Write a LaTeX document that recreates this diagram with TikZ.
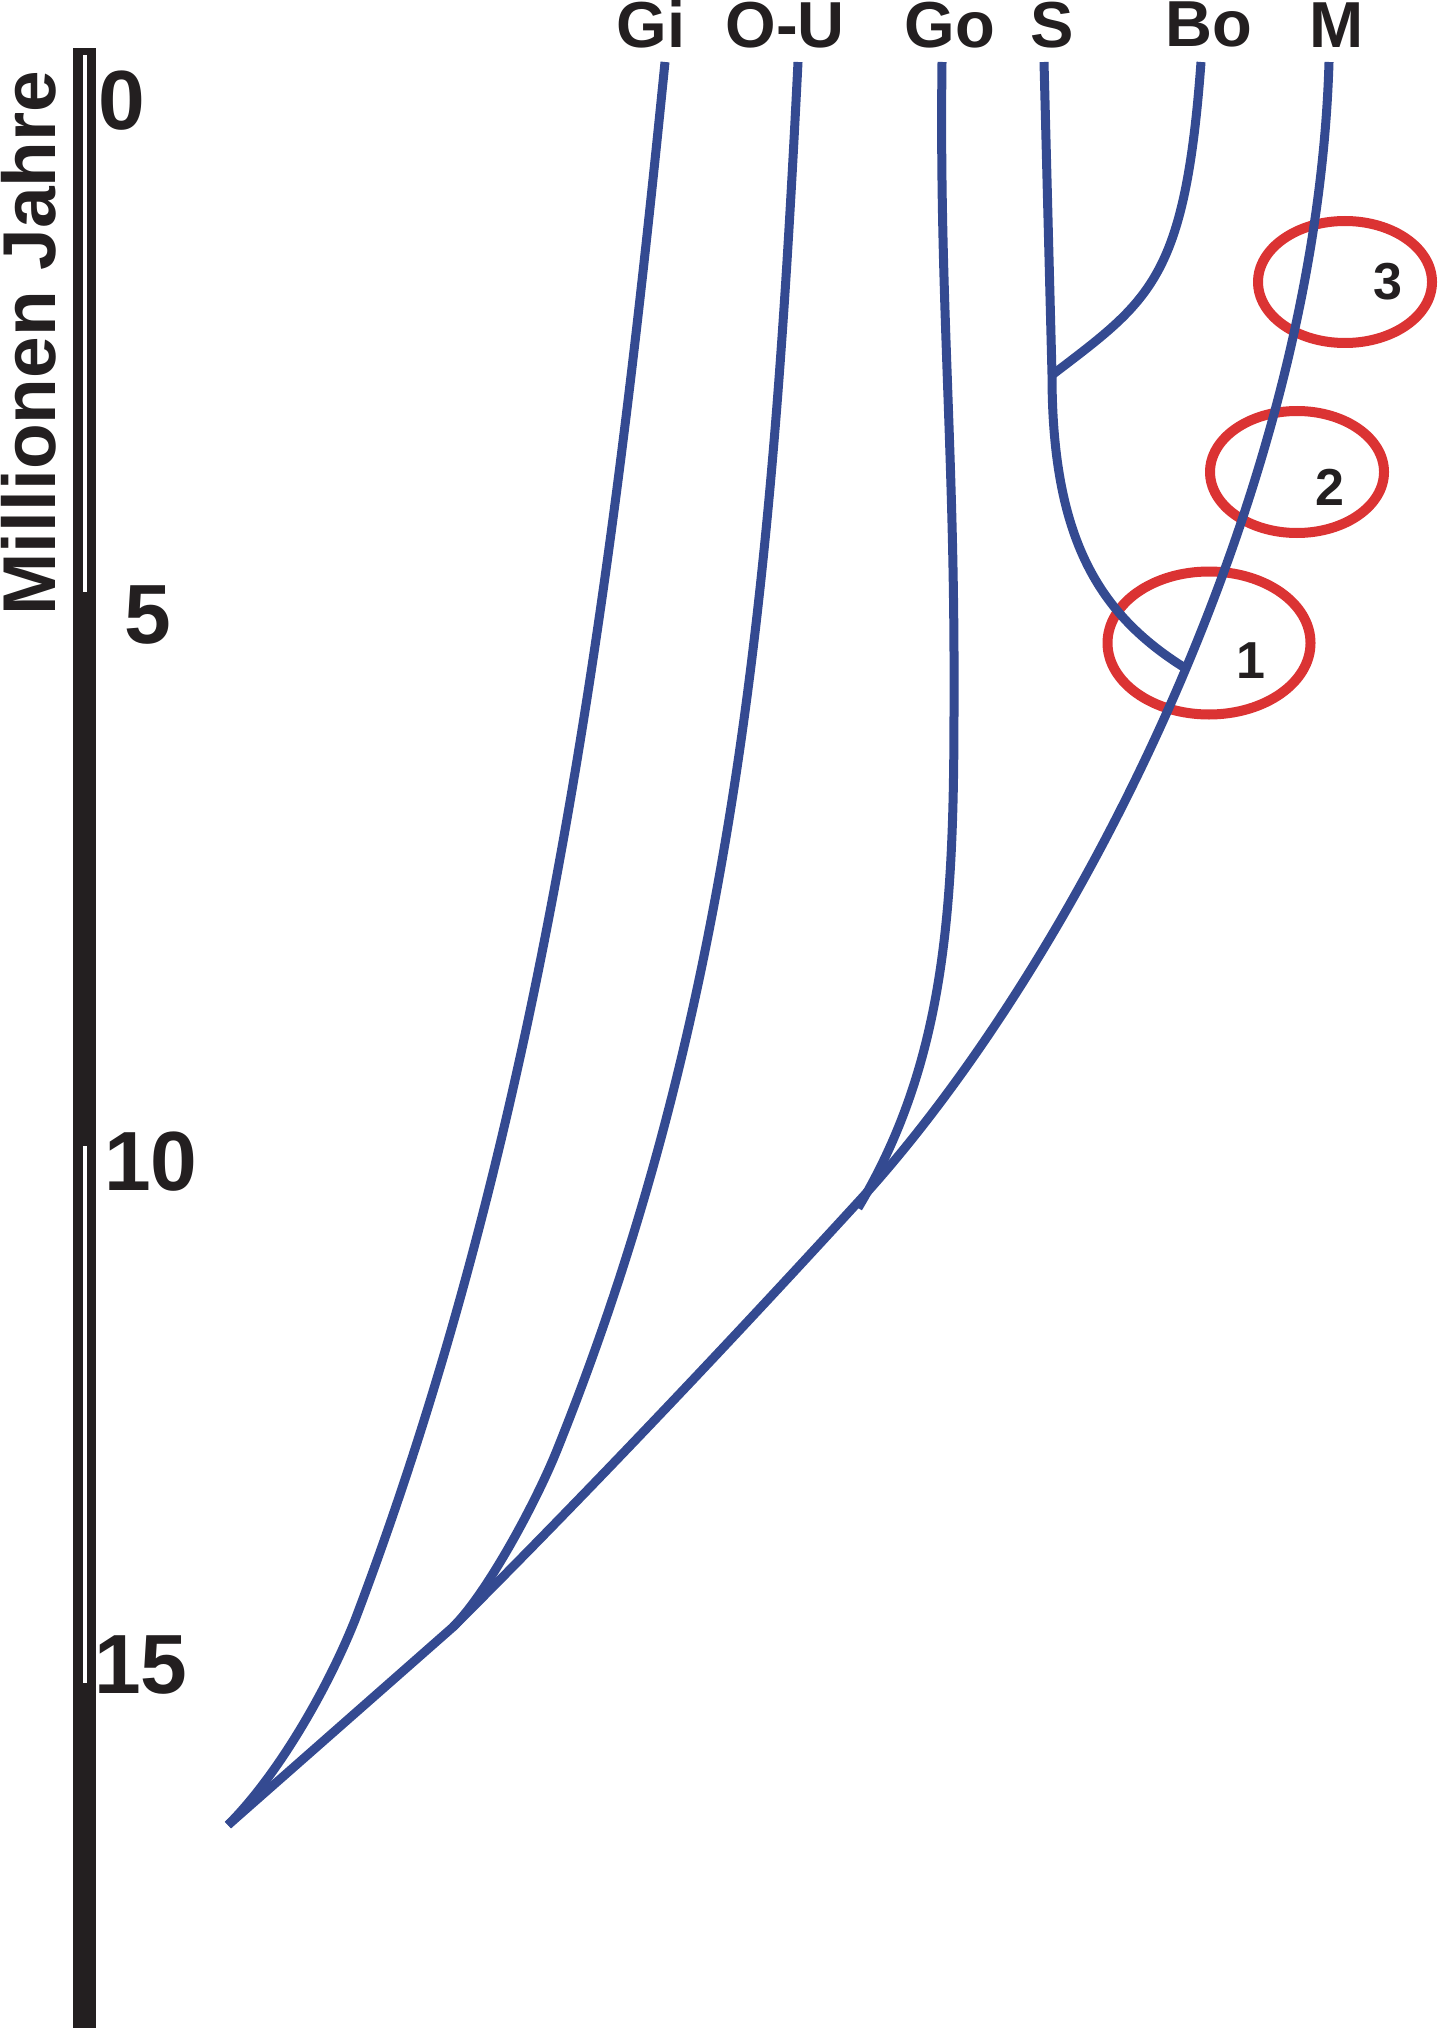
\documentclass[tikz,border=0pt]{standalone}
\usepackage{fontspec}
\setmainfont{Liberation Sans}
\usetikzlibrary{shapes, positioning, arrows}

\definecolor{treeblue}{RGB}{52,74,145}
\definecolor{ringred}{RGB}{219,51,51}
\definecolor{barblack}{RGB}{35,31,32}

\tikzset{
x=0.1mm, y=-0.1mm, % one unit = one pixel of the original, y runs downwards
}
\tikzstyle{taxon} = [font=\fontsize{18.5}{20}\selectfont\bfseries, text=barblack,
    inner sep=0pt]
\tikzstyle{age} = [font=\fontsize{23.9}{26}\selectfont\bfseries, text=barblack,
    inner sep=0pt, anchor=base]
\tikzstyle{branch} = [draw=treeblue, line width=0.9mm]
\tikzstyle{ring} = [draw=ringred, ellipse, line width=1mm, inner sep=0pt,
    minimum width=17.4mm, minimum height=12.2mm]
\tikzstyle{ringnum} = [font=\fontsize{14.8}{16}\selectfont\bfseries, text=barblack,
    inner sep=0pt, anchor=base]

\begin{document}
\begin{tikzpicture}
\useasboundingbox (0,0) rectangle (1438,2028);

% time bar
\fill [barblack] (73,48) rectangle (96,2028);
\fill [white] (83,55) rectangle (87,592);
\fill [white] (83,1146) rectangle (87,1683);
\node [font=\fontsize{21.3}{24}\selectfont\bfseries, text=barblack, rotate=90,
    anchor=base, inner sep=0pt] (axis) at (55,343) {Millionen Jahre};
\node [age] (age0) at (122,130) {0};
\node [age] (age5) at (148,643) {5};
\node [age] (age10) at (151,1190) {10};
\node [age] (age15) at (141,1693) {15};

% taxa
\node [taxon, anchor=base] (gi) at (651,48) {Gi};
\node [taxon, right of=gi, node distance=13.4mm] (ou) {O-U};
\node [taxon, right of=ou, node distance=16.5mm] (go) {Go};
\node [taxon, right of=go, node distance=10.2mm] (s) {S};
\node [taxon, right of=s, node distance=15.7mm] (bo) {Bo};
\node [taxon, right of=bo, node distance=12.8mm] (m) {M};

% marked events
\node [ring] (ring3) at (1345,282) {};
\node [ring] (ring2) at (1297,472) {};
\node [ring, minimum width=20.3mm, minimum height=14.3mm] (ring1) at (1209,643) {};
\node [ringnum] (num3) at (1388,300) {3};
\node [ringnum] (num2) at (1330,505) {2};
\node [ringnum] (num1) at (1251,678) {1};

\coordinate (tGi) at (665,62);
\coordinate (tOU) at (798,62);
\coordinate (tGo) at (942,62);
\coordinate (tS) at (1044,62);
\coordinate (tBo) at (1201,62);
\coordinate (tM) at (1329,62);
\coordinate (bGi) at (355,1620);
\coordinate (bOU) at (557,1450);
\coordinate (bGo) at (954,700);
\coordinate (bM) at (860,1200);
\coordinate (root) at (228,1825);
\coordinate (jOU) at (453,1627);
\coordinate (jGo) at (858,1208);
\coordinate (jBo) at (1052,375);
\coordinate (jS) at (1185,668);

  \draw [branch] (tGi) .. controls (613,582) and (545,1120) .. (bGi)
      .. controls (327,1690) and (278,1775) .. (root);
  \draw [branch] (tOU) .. controls (773,562) and (738,1000) .. (bOU)
      .. controls (537,1500) and (488,1592) .. (jOU);
  \draw [branch] (tGo) .. controls (939,300) and (955,450) .. (bGo)
      .. controls (954,900) and (948,1058) .. (jGo);
  \draw [branch] (tS) -- (jBo) .. controls (1052,540) and (1100,615) .. (jS);
  \draw [branch] (tBo) .. controls (1185,280) and (1150,300) .. (jBo);
  \draw [branch] (tM) .. controls (1316,500) and (1070,970) .. (bM)
      .. controls (730,1342) and (590,1490) .. (jOU) -- (root);
%  \draw [branch] (jOU) -- (root);

\end{tikzpicture}
\end{document}
